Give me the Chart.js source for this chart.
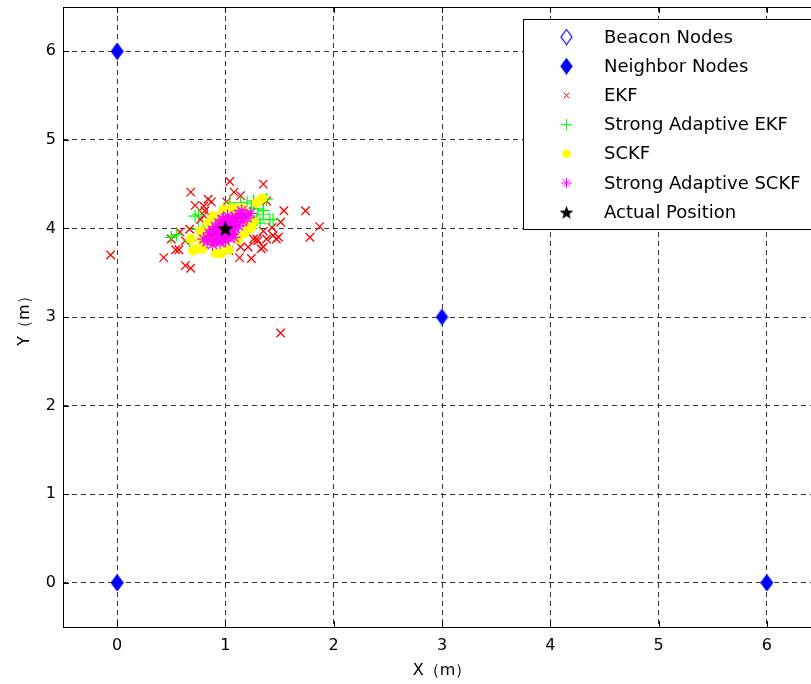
<!DOCTYPE html>
<html lang="en">
<head>
  <meta charset="UTF-8">
  <title>Localization results</title>
  <script src="https://cdn.jsdelivr.net/npm/chart.js"></script>
  <style>
    html, body { margin: 0; padding: 0; background: #fff; overflow: hidden; }
    #wrap { width: 811px; height: 684px; overflow: hidden; }
    canvas { display: block; }
  </style>
</head>
<body>
  <div id="wrap">
    <canvas id="myChart" width="830" height="684"></canvas>
  </div>
  <script>
    // --- datos ---
    const tickVals = [0, 1, 2, 3, 4, 5, 6];

    const beaconX = [0, 0, 6];
    const beaconY = [0, 6, 0];

    const neighborX = [0, 0, 3, 6];
    const neighborY = [0, 6, 3, 0];

    const ekfX = [-0.06, 1.04, 1.35, 0.68, 1.08, 1.14, 0.84, 0.87, 0.72, 0.80, 1.38, 1.54, 1.74, 1.51, 1.87,
      1.78, 1.43, 1.35, 1.44, 1.49, 1.47, 1.38, 1.29, 1.26, 1.30, 1.35, 1.33, 1.21, 1.14, 1.03, 1.13, 1.24,
      0.58, 0.67, 0.63, 0.54, 0.57, 0.43, 0.63, 0.68, 0.50, 0.77, 0.80, 0.81, 1.51, 1.01, 0.87];
    const ekfY = [3.70, 4.53, 4.50, 4.41, 4.41, 4.37, 4.33, 4.30, 4.26, 4.25, 4.31, 4.20, 4.20, 4.07, 4.02,
      3.90, 4.01, 3.97, 3.92, 3.90, 3.88, 3.88, 3.88, 3.88, 3.86, 3.79, 3.77, 3.79, 3.79, 3.75, 3.67, 3.66,
      3.96, 3.99, 3.86, 3.76, 3.76, 3.67, 3.58, 3.55, 3.88, 4.10, 4.15, 4.20, 2.82, 4.30, 3.93];

    const saEkfX = [0.50, 0.72, 1.26, 1.20, 1.35, 1.30, 1.41, 1.29, 1.44, 1.24, 0.80, 0.75, 0.67, 0.84,
      1.23, 0.75, 1.24, 1.38, 0.55, 0.89, 1.04, 1.14, 1.20, 1.35, 1.32];
    const saEkfY = [3.90, 4.14, 4.31, 4.29, 4.20, 4.22, 4.10, 4.10, 4.10, 4.14, 3.97, 3.99, 3.86, 4.05,
      4.05, 4.16, 4.23, 4.33, 3.93, 3.95, 4.29, 4.29, 3.99, 4.16, 4.06];

    const sckfX = [1.34, 1.29, 0.98, 1.06, 1.17, 0.92, 0.84, 1.24, 0.68, 0.78, 0.73, 0.79, 0.91, 0.96,
      1.12, 0.77, 0.89, 1.26, 0.98, 0.70, 0.89, 1.14, 1.21, 1.03, 0.86, 1.10, 0.95, 1.18, 0.82];
    const sckfY = [4.34, 4.29, 4.21, 4.23, 4.21, 4.12, 4.06, 4.01, 3.88, 3.88, 3.77, 3.77, 3.72, 3.72,
      3.88, 3.97, 3.84, 4.08, 3.84, 3.75, 4.14, 4.23, 4.05, 3.76, 3.86, 4.15, 4.05, 3.95, 3.95];

    const saSckfX = [0.80, 0.83, 0.86, 0.88, 0.90, 0.92, 0.93, 0.95, 0.96, 0.97, 0.98, 0.99, 1.00, 1.01,
      1.02, 1.03, 1.04, 1.05, 1.06, 1.07, 1.08, 1.10, 1.12, 1.14, 1.16, 1.18, 1.20, 1.23, 0.88, 0.91,
      0.94, 0.97, 1.00, 1.03, 1.06, 1.09, 1.12, 0.95, 1.02, 1.08, 0.90, 0.98, 1.05, 1.15, 0.85];
    const saSckfY = [3.88, 3.85, 3.92, 3.82, 3.95, 3.88, 3.98, 3.84, 3.93, 4.02, 3.89, 3.96, 4.05, 3.92,
      4.00, 4.08, 3.95, 4.04, 4.12, 3.98, 4.07, 4.10, 4.03, 4.13, 4.08, 4.15, 4.12, 4.17, 3.98, 4.02,
      4.06, 4.10, 3.86, 3.90, 3.94, 4.00, 4.16, 4.00, 4.14, 3.90, 3.86, 4.10, 4.02, 4.20, 3.95];

    const actualX = [1];
    const actualY = [4];

    const seriesNames = ['Beacon Nodes', 'Neighbor Nodes', 'EKF', 'Strong Adaptive EKF', 'SCKF',
      'Strong Adaptive SCKF', 'Actual Position'];

    function pares(xs, ys) {
      return xs.map((x, i) => ({ x: x, y: ys[i] }));
    }

    // marcadores propios (rombo alargado y estrella de cinco puntas)
    function rombo(filled) {
      const c = document.createElement('canvas');
      c.width = 13; c.height = 17;
      const g = c.getContext('2d');
      g.beginPath();
      g.moveTo(6.5, 1); g.lineTo(12, 8.5); g.lineTo(6.5, 16); g.lineTo(1, 8.5); g.closePath();
      if (filled) { g.fillStyle = '#0000ff'; g.fill(); }
      g.strokeStyle = '#0000ff'; g.lineWidth = 1.2; g.stroke();
      return c;
    }
    function estrella(size) {
      const c = document.createElement('canvas');
      c.width = size; c.height = size;
      const g = c.getContext('2d');
      const m = size / 2;
      g.beginPath();
      for (let i = 0; i < 10; i++) {
        const r = i % 2 === 0 ? m - 0.3 : m * 0.4;
        const a = -Math.PI / 2 + i * Math.PI / 5;
        const px = m + r * Math.cos(a), py = m + 0.8 + r * Math.sin(a);
        if (i === 0) g.moveTo(px, py); else g.lineTo(px, py);
      }
      g.closePath();
      g.fillStyle = '#000'; g.fill();
      return c;
    }
    const romboVacio = rombo(false);
    const romboLleno = rombo(true);
    const estrellaNegra = estrella(18);
    const estrellaLeyenda = estrella(15);

    const estilos = [
      { pointStyle: romboVacio, radius: 7, width: 1, color: '#0000ff' },
      { pointStyle: romboLleno, radius: 7, width: 1, color: '#0000ff' },
      { pointStyle: 'crossRot', radius: 6, width: 1.3, color: '#ff0000' },
      { pointStyle: 'cross', radius: 6.5, width: 1.2, color: '#00ff00' },
      { pointStyle: 'circle', radius: 4.6, width: 1, color: '#ffff00' },
      { pointStyle: 'star', radius: 6.5, width: 1.3, color: '#ff00ff' },
      { pointStyle: estrellaNegra, radius: 9, width: 1, color: '#000000' }
    ];
    const datos = [
      pares(beaconX, beaconY), pares(neighborX, neighborY), pares(ekfX, ekfY), pares(saEkfX, saEkfY),
      pares(sckfX, sckfY), pares(saSckfX, saSckfY), pares(actualX, actualY)
    ];

    const datasets = datos.map((d, i) => ({
      label: seriesNames[i],
      data: d,
      pointStyle: estilos[i].pointStyle,
      pointRadius: estilos[i].radius,
      pointHoverRadius: estilos[i].radius,
      borderColor: estilos[i].color,
      backgroundColor: estilos[i].color,
      pointBorderWidth: estilos[i].width,
      showLine: false,
      order: seriesNames.length - i
    }));

    // marco, marcas interiores y leyenda
    const marcoPlugin = {
      id: 'marco',
      afterDraw(chart) {
        const { ctx, chartArea: a, scales } = chart;
        ctx.save();
        ctx.strokeStyle = '#000';
        ctx.lineWidth = 1;
        ctx.strokeRect(Math.round(a.left) + 0.5, Math.round(a.top) + 0.5,
          Math.round(a.right - a.left), Math.round(a.bottom - a.top));
        ctx.beginPath();
        tickVals.forEach(v => {
          const px = Math.round(scales.x.getPixelForValue(v)) + 0.5;
          ctx.moveTo(px, a.bottom); ctx.lineTo(px, a.bottom - 6);
          ctx.moveTo(px, a.top); ctx.lineTo(px, a.top + 6);
          const py = Math.round(scales.y.getPixelForValue(v)) + 0.5;
          ctx.moveTo(a.left, py); ctx.lineTo(a.left + 6, py);
          ctx.moveTo(a.right, py); ctx.lineTo(a.right - 6, py);
        });
        ctx.stroke();

        // leyenda
        const lx = 523.5, ly = 19.5, lw = 300, lh = 210;
        ctx.fillStyle = '#fff';
        ctx.fillRect(lx, ly, lw, lh);
        ctx.strokeRect(lx, ly, lw, lh);
        ctx.font = '18px "DejaVu Sans"';
        ctx.textBaseline = 'middle';
        ctx.textAlign = 'left';
        const radLeyenda = [7, 7, 4, 5.5, 3.8, 5.2, 7];
        datasets.forEach((ds, i) => {
          const y = 37 + i * 29.2;
          const e = estilos[i];
          const estilo = i === 6 ? estrellaLeyenda : e.pointStyle;
          if (Chart.helpers && Chart.helpers.drawPoint) {
            ctx.fillStyle = e.color;
            ctx.strokeStyle = e.color;
            ctx.lineWidth = 1;
            Chart.helpers.drawPoint(ctx, { pointStyle: estilo, radius: radLeyenda[i], rotation: 0, borderWidth: 1 }, 566.5, y);
          }
          ctx.fillStyle = '#000';
          ctx.fillText(ds.label, 604, y + 1);
        });
        ctx.restore();
      }
    };

    const ejeX = {
      type: 'linear',
      min: -0.5,
      max: 6.5,
      afterBuildTicks: s => { s.ticks = tickVals.map(v => ({ value: v })); },
      afterFit: s => { s.height = 57; s.paddingLeft = 0; s.paddingRight = 0; },
      grid: { color: '#333', lineWidth: 1, drawTicks: false },
      border: { display: false, dash: [5, 4] },
      ticks: { color: '#000', padding: 9, font: { family: 'DejaVu Sans', size: 16 } },
      title: {
        display: true, text: 'X（m）', color: '#000',
        font: { family: 'DejaVu Sans', size: 16 }, padding: { top: 0, bottom: 4 }
      }
    };
    const ejeY = {
      type: 'linear',
      min: -0.5,
      max: 6.5,
      afterBuildTicks: s => { s.ticks = tickVals.map(v => ({ value: v })); },
      afterFit: s => { s.width = 63; s.paddingTop = 0; s.paddingBottom = 0; },
      grid: { color: '#333', lineWidth: 1, drawTicks: false },
      border: { display: false, dash: [5, 4] },
      ticks: { color: '#000', padding: 7, font: { family: 'DejaVu Sans', size: 16 } },
      title: {
        display: true, text: 'Y（m）', color: '#000',
        font: { family: 'DejaVu Sans', size: 16 }, padding: { top: 15, bottom: 0 }
      }
    };

    const ctx = document.getElementById('myChart').getContext('2d');
    const chart = new Chart(ctx, {
      type: 'scatter',
      data: { datasets: datasets },
      options: {
        responsive: false,
        animation: false,
        devicePixelRatio: 1,
        layout: { autoPadding: false, padding: { top: 7, right: 9, left: 0, bottom: 0 } },
        plugins: { legend: { display: false }, tooltip: { enabled: false } },
        scales: { x: ejeX, y: ejeY }
      },
      plugins: [marcoPlugin]
    });
  </script>
</body>
</html>
